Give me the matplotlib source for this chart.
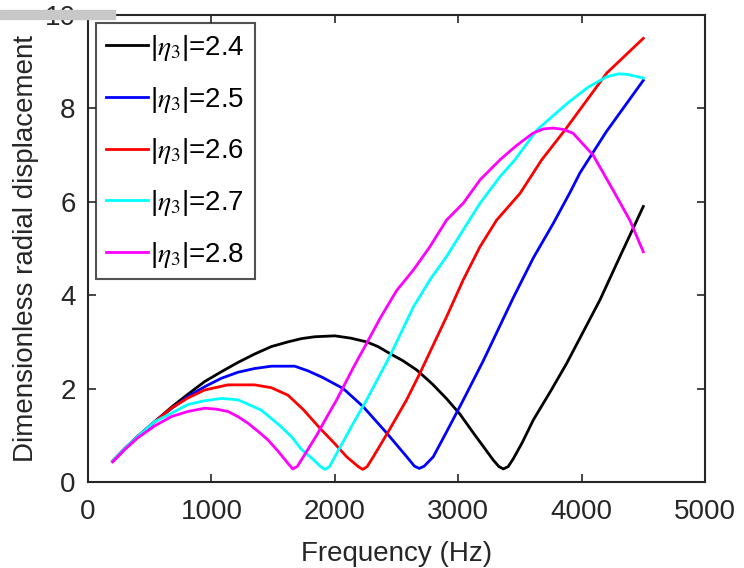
import matplotlib
matplotlib.use("Agg")
import matplotlib.pyplot as plt
from matplotlib.patches import Rectangle

plt.rcParams['font.family'] = ['Liberation Sans', 'DejaVu Sans']
plt.rcParams['mathtext.fontset'] = 'stix'

# |eta_3| = 2.4
f_24 = [200, 300, 400, 540, 675, 810, 945, 1080, 1215, 1350, 1486, 1620, 1729, 1837,
        2000, 2130, 2258, 2350, 2447, 2550, 2663, 2790, 2907, 3015, 3123, 3284,
        3330, 3366, 3405, 3447, 3520, 3609, 3750, 3879, 4010, 4149, 4320, 4500]
v_24 = [0.45, 0.72, 0.97, 1.29, 1.6, 1.88, 2.15, 2.36, 2.56, 2.74, 2.9, 3.0, 3.07, 3.11,
        3.13, 3.08, 3.0, 2.9, 2.75, 2.6, 2.40, 2.1, 1.78, 1.45, 1.05, 0.47,
        0.33, 0.28, 0.33, 0.5, 0.85, 1.33, 1.95, 2.54, 3.2, 3.9, 4.88, 5.9]

# |eta_3| = 2.5
f_25 = [200, 300, 400, 540, 675, 810, 945, 1080, 1215, 1350, 1486, 1675, 1783, 1900,
        2069, 2231, 2420, 2583, 2645, 2685, 2725, 2798, 2907, 3042, 3204, 3339,
        3447, 3609, 3771, 3906, 3987, 4200, 4500]
v_25 = [0.45, 0.72, 0.97, 1.29, 1.57, 1.83, 2.04, 2.22, 2.35, 2.43, 2.48, 2.48, 2.38, 2.24,
        2.0, 1.61, 1.05, 0.54, 0.34, 0.29, 0.34, 0.54, 1.08, 1.76, 2.6, 3.35,
        3.95, 4.8, 5.54, 6.2, 6.62, 7.5, 8.6]

# |eta_3| = 2.6
f_26 = [200, 300, 400, 540, 675, 810, 945, 1134, 1350, 1485, 1620, 1745, 1880, 2000,
        2096, 2190, 2226, 2262, 2312, 2434, 2582, 2690, 2906, 3041, 3177, 3312,
        3501, 3677, 3866, 4205, 4500]
v_26 = [0.45, 0.72, 0.97, 1.29, 1.58, 1.8, 1.97, 2.08, 2.08, 2.02, 1.86, 1.55, 1.15, 0.82,
        0.54, 0.33, 0.27, 0.33, 0.54, 1.08, 1.76, 2.33, 3.54, 4.33, 5.04, 5.61,
        6.18, 6.9, 7.54, 8.76, 9.5]

# |eta_3| = 2.7
f_27 = [200, 300, 400, 540, 675, 810, 945, 1080, 1215, 1404, 1567, 1656, 1729, 1818,
        1885, 1921, 1957, 2015, 2150, 2258, 2447, 2637, 2771, 2906, 3041, 3177,
        3339, 3460, 3638, 3880, 4050, 4205, 4300, 4368, 4500]
v_27 = [0.45, 0.72, 0.97, 1.29, 1.47, 1.66, 1.74, 1.79, 1.76, 1.54, 1.18, 0.95, 0.7, 0.5,
        0.33, 0.27, 0.33, 0.61, 1.26, 1.76, 2.70, 3.75, 4.33, 4.83, 5.4, 5.97,
        6.54, 6.9, 7.54, 8.1, 8.45, 8.68, 8.74, 8.73, 8.65]

# |eta_3| = 2.8
f_28 = [200, 300, 405, 540, 675, 810, 945, 1040, 1134, 1215, 1296, 1380, 1459, 1540,
        1620, 1659, 1695, 1745, 1853, 1907, 2015, 2150, 2258, 2366, 2501, 2637,
        2771, 2906, 3041, 3177, 3339, 3470, 3606, 3690, 3768, 3850, 3930, 4093,
        4255, 4392, 4500]
v_28 = [0.43, 0.7, 0.95, 1.2, 1.40, 1.51, 1.58, 1.56, 1.51, 1.4, 1.26, 1.08, 0.9, 0.66,
        0.40, 0.28, 0.33, 0.54, 1.0, 1.26, 1.76, 2.45, 2.97, 3.5, 4.1, 4.54,
        5.04, 5.61, 5.97, 6.47, 6.9, 7.2, 7.47, 7.56, 7.58, 7.55, 7.47, 7.0,
        6.25, 5.6, 4.93]

labels = ['2.4', '2.5', '2.6', '2.7', '2.8']
colors = ['black', 'blue', 'red', 'cyan', 'magenta']

fig = plt.figure(figsize=(7.44, 5.68), dpi=100)
ax = fig.add_axes([88/744, 1 - 482/568, (705-88)/744, (482-15)/568])

series = [(f_24, v_24), (f_25, v_25), (f_26, v_26), (f_27, v_27), (f_28, v_28)]
for (f, v), lab, c in zip(series, labels, colors):
    ax.plot(f, v, color=c, lw=2, label=r'|$\eta_3$|=' + lab)

ax.set_xlim(0, 5000)
ax.set_ylim(0, 10)
ax.set_xticks([0, 1000, 2000, 3000, 4000, 5000])
ax.set_yticks([0, 2, 4, 6, 8, 10])
ax.tick_params(direction='in', top=True, right=True, length=6, width=1.2,
               labelsize=20, colors='#262626')
ax.tick_params(axis='x', pad=12)
ax.tick_params(axis='y', pad=9)
for s in ax.spines.values():
    s.set_color('#262626')
    s.set_linewidth(1.5)

ax.set_xlabel('Frequency (Hz)', fontsize=20, color='#262626', labelpad=12)
ax.set_ylabel('Dimensionless radial displacement', fontsize=20, color='#262626', labelpad=4)

leg = ax.legend(loc='upper left', fontsize=20, frameon=True, fancybox=False,
                edgecolor='#262626', handlelength=1.5, handletextpad=0.1,
                labelspacing=0.78, borderpad=0.35, borderaxespad=0.3)
leg.get_frame().set_linewidth(1.5)

# grey strip over the top-left corner of the screenshot
fig.patches.append(Rectangle((0, 1 - 19/568), 115/744, 9/568, transform=fig.transFigure,
                             color='#c8c8c8', zorder=10))

fig.savefig('out.png', dpi=100)
